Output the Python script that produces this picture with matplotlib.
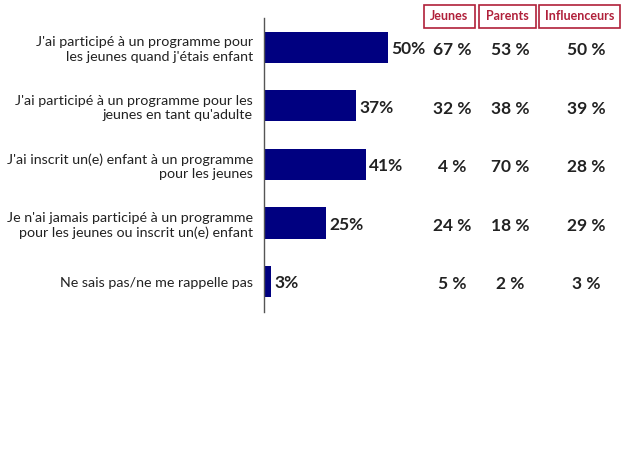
import matplotlib.pyplot as plt
from matplotlib.transforms import blended_transform_factory
from matplotlib.patches import Rectangle

CATEGORIES = [
    "J'ai participé à un programme pour\nles jeunes quand j'étais enfant",
    "J'ai participé à un programme pour les\njeunes en tant qu'adulte",
    "J'ai inscrit un(e) enfant à un programme\npour les jeunes",
    "Je n'ai jamais participé à un programme\npour les jeunes ou inscrit un(e) enfant",
    "Ne sais pas/ne me rappelle pas",
]
TOTAL = [50, 37, 41, 25, 3]
JEUNES = [67, 32, 4, 24, 5]
PARENTS = [53, 38, 70, 18, 2]
INFLUENCEURS = [50, 39, 28, 29, 3]
GROUPS = ["Jeunes", "Parents", "Influenceurs"]

plt.rcParams["font.family"] = ["Lato", "DejaVu Sans"]

NAVY = "#000080"
RED = "#B0203A"
W, H = 624, 468

fig = plt.figure(figsize=(W / 100, H / 100), dpi=100)
ax = fig.add_axes([264 / W, 1 - 312 / H, 248 / W, 294 / H])

ys = list(range(len(CATEGORIES)))
ax.barh(ys, TOTAL, height=0.53, color=NAVY)
ax.set_xlim(0, 100)
ax.set_ylim(4.52, -0.5)

for y, v in zip(ys, TOTAL):
    ax.text(v + 1.4, y + 0.03, f"{v}%", va="center", ha="left",
            fontsize=12.5, fontweight="bold", color="#222222")

for s in ("top", "right", "bottom"):
    ax.spines[s].set_visible(False)
ax.spines["left"].set_color("#555555")
ax.spines["left"].set_linewidth(1.0)
ax.set_xticks([])
ax.set_yticks(ys)
ax.set_yticklabels(CATEGORIES, fontsize=10.3, color="#222222", linespacing=1.25)
ax.tick_params(axis="y", length=0, pad=8)

# group columns
tr = blended_transform_factory(fig.transFigure, ax.transData)
col_x = [452 / W, 510 / W, 586 / W]
for cx, vals in zip(col_x, [JEUNES, PARENTS, INFLUENCEURS]):
    for y, v in zip(ys, vals):
        ax.text(cx, y + 0.05, f"{v} %", transform=tr, ha="center", va="center",
                fontsize=12.5, fontweight="bold", color="#222222")

# header boxes
boxes = [(424, 475), (479, 536), (539, 620)]
for (x0, x1), name in zip(boxes, GROUPS):
    fig.patches.append(Rectangle((x0 / W, 1 - 28 / H), (x1 - x0) / W, 23 / H,
                                 transform=fig.transFigure, fill=False,
                                 edgecolor=RED, linewidth=1.2))
    fig.text((x0 + x1) / 2 / W, 1 - 16.5 / H, name, ha="center", va="center",
             fontsize=9, fontweight="bold", color=RED)

fig.savefig("out.png", dpi=100)
